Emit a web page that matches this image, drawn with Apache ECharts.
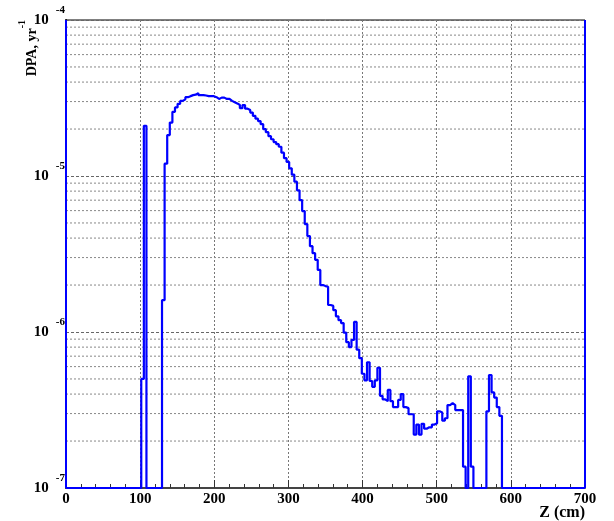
<!DOCTYPE html>
<html><head><meta charset="utf-8">
<script src="https://cdn.jsdelivr.net/npm/echarts@6/dist/echarts.min.js"></script>
<style>html,body{margin:0;padding:0;background:#fff}#c{width:614px;height:521px}</style>
</head><body><div id="c"></div>
<script>
// Histogram: 200 bins of 3.5 cm over Z = 0..700 cm
const binWidth = 3.5;
const xMin = 0, xMax = 700;
const yMin = 1e-7, yMax = 1e-4;
const xTicks = [0, 100, 200, 300, 400, 500, 600, 700];
const yDecades = [1e-7, 1e-6, 1e-5, 1e-4];
const frameEdges = [0, 700];
const binValues = [
  // k 0..28
  0,0,0,0,0,0,0,0,0,0, 0,0,0,0,0,0,0,0,0,0, 0,0,0,0,0,0,0,0,0,
  // k 29..30
  5.0e-7, 2.1e-5,
  // k 31..36
  0,0,0,0,0,0,
  // k 37..
  1.6e-6, 1.2e-5, 1.83e-5, 2.2e-5, 2.58e-5, 2.75e-5, 2.9e-5, 3.03e-5, 3.1e-5, 3.2e-5,
  3.25e-5, 3.3e-5, 3.32e-5, 3.4e-5, 3.3e-5, 3.3e-5, 3.28e-5, 3.25e-5, 3.25e-5, 3.25e-5,
  3.2e-5, 3.12e-5, 3.18e-5, 3.18e-5, 3.12e-5, 3.12e-5, 3.03e-5, 2.97e-5, 2.92e-5, 2.85e-5,
  2.72e-5, 2.85e-5, 2.7e-5, 2.65e-5, 2.55e-5, 2.43e-5, 2.33e-5, 2.25e-5, 2.15e-5, 2.0e-5,
  1.91e-5, 1.8e-5, 1.72e-5, 1.65e-5, 1.6e-5, 1.54e-5, 1.41e-5, 1.3e-5, 1.23e-5, 1.12e-5,
  1.02e-5, 9.2e-6, 8.1e-6, 7.0e-6, 5.96e-6, 4.92e-6, 4.12e-6, 3.55e-6, 3.2e-6, 2.9e-6,
  2.5e-6, 2.0e-6, 1.97e-6, 1.95e-6, 1.49e-6, 1.47e-6, 1.38e-6, 1.26e-6, 1.19e-6, 1.14e-6,
  9.9e-7, 8.6e-7, 8.0e-7, 8.9e-7, 1.16e-6, 7.7e-7, 6.8e-7, 5.4e-7, 4.9e-7, 6.4e-7,
  4.85e-7, 4.45e-7, 4.9e-7, 5.9e-7, 3.9e-7, 3.7e-7, 3.6e-7, 4.25e-7, 3.6e-7, 3.3e-7,
  3.3e-7, 3.67e-7, 4.0e-7, 3.3e-7, 3.25e-7, 2.97e-7, 2.97e-7, 2.2e-7, 2.55e-7, 2.2e-7,
  2.58e-7, 2.4e-7, 2.45e-7, 2.45e-7, 2.55e-7, 2.6e-7, 3.1e-7, 3.05e-7, 2.7e-7, 2.8e-7,
  3.4e-7, 3.5e-7, 3.4e-7, 3.16e-7, 3.16e-7, 3.16e-7, 1.37e-7,
  // k 154..156
  0, 5.2e-7, 1.37e-7,
  // k 157..161
  0,0,0,0,0,
  // k 162..167
  3.1e-7, 5.3e-7, 4.1e-7, 3.8e-7, 3.3e-7, 2.9e-7,
  // k 168..199
  0,0,0,0,0,0,0,0,0,0, 0,0,0,0,0,0,0,0,0,0, 0,0,0,0,0,0,0,0,0,0, 0,0
];

const serif = '"Liberation Serif", "DejaVu Serif", serif';
const gridGrey = '#888888';

// Histogram outline points (bins below axis minimum drawn on the frame bottom, as ROOT does)
const histPoints = binValues.map((v, k) => [xMin + k * binWidth, Math.max(v, yMin)]);
histPoints.push([xMax, Math.max(binValues[binValues.length - 1], yMin)]);

// minor log grid values 2..9 x 10^n
const minorGrid = [];
for (let i = 0; i < yDecades.length - 1; i++) {
  for (let m = 2; m <= 9; m++) minorGrid.push(m * yDecades[i]);
}

const chart = echarts.init(document.getElementById('c'), null, {renderer: 'canvas'});
chart.setOption({
  animation: false,
  backgroundColor: '#fff',
  grid: {left: 66, right: 29, top: 20, bottom: 33, show: true, borderColor: '#000', borderWidth: 1, backgroundColor: 'transparent'},
  xAxis: {
    type: 'value', min: xMin, max: xMax, interval: 100,
    axisLine: {show: true, onZero: false, lineStyle: {color: '#444', width: 2}},
    axisTick: {show: true, inside: true, length: 8, lineStyle: {color: '#333'}},
    minorTick: {show: true, splitNumber: 5, length: 4, lineStyle: {color: '#333'}},
    splitLine: {show: true, lineStyle: {color: '#777', type: [2, 2], width: 1}},
    axisLabel: {
      margin: 4, color: '#000', fontFamily: serif, fontWeight: 'bold', fontSize: 15,
      formatter: v => xTicks.indexOf(v) >= 0 ? String(v) : ''
    }
  },
  yAxis: {
    type: 'log', logBase: 10, min: yMin, max: yMax,
    axisLine: {show: true, lineStyle: {color: '#000', width: 2}},
    axisTick: {show: false},
    splitLine: {show: true, lineStyle: {color: '#666', type: [3, 2], width: 1}},
    axisLabel: {
      margin: 1, color: '#000',
      formatter: v => {
        const e = Math.round(Math.log10(v));
        return '{b|10}{e|' + e + '}';
      },
      rich: {
        b: {fontFamily: serif, fontWeight: 'bold', fontSize: 15, lineHeight: 30, verticalAlign: 'middle', color: '#000'},
        e: {fontFamily: serif, fontWeight: 'bold', fontSize: 11, lineHeight: 11, verticalAlign: 'top', padding: [0, 0, 0, 7], color: '#000'}
      }
    }
  },
  series: [
    {
      name: 'minorGrid', type: 'custom', silent: true, z: 1, clip: false,
      data: minorGrid.map(v => [xMin, v]),
      encode: {x: 0, y: 1},
      renderItem: (params, api) => {
        const cs = params.coordSys;
        const y = api.coord([xMin, api.value(1)])[1];
        return {
          type: 'line',
          shape: {x1: cs.x, y1: y, x2: cs.x + cs.width, y2: y},
          style: {stroke: gridGrey, lineWidth: 1, lineDash: [2, 2]}
        };
      }
    },
    {
      name: 'DPA', type: 'line', step: 'end', data: histPoints, showSymbol: false, z: 5,
      lineStyle: {color: '#0000ff', width: 2.2}, itemStyle: {color: '#0000ff'}
    },
    {
      name: 'edges', type: 'custom', silent: true, z: 6, clip: false,
      data: frameEdges.map(x => [x, yMin]),
      encode: {x: 0, y: 1},
      renderItem: (params, api) => {
        const p0 = api.coord([api.value(0), yMin]);
        const p1 = api.coord([api.value(0), yMax]);
        return {
          type: 'line',
          shape: {x1: p0[0], y1: p0[1], x2: p1[0], y2: p1[1]},
          style: {stroke: '#0000ff', lineWidth: 2}
        };
      }
    }
  ],
  graphic: [
    {
      type: 'text', x: 585, y: 513,
      style: {text: 'Z (cm)', font: 'bold 16px ' + serif, fill: '#000', align: 'right', verticalAlign: 'middle'}
    },
    {
      type: 'text', x: 28, y: 20, rotation: Math.PI / 2,
      style: {
        text: '{a|DPA, yr}{s|-1}', align: 'right', verticalAlign: 'middle',
        rich: {
          a: {font: 'bold 14px ' + serif, fill: '#000', lineHeight: 22, verticalAlign: 'bottom'},
          s: {font: 'bold 10px ' + serif, fill: '#000', lineHeight: 10, verticalAlign: 'top'}
        }
      }
    }
  ]
});
</script>
</body></html>
